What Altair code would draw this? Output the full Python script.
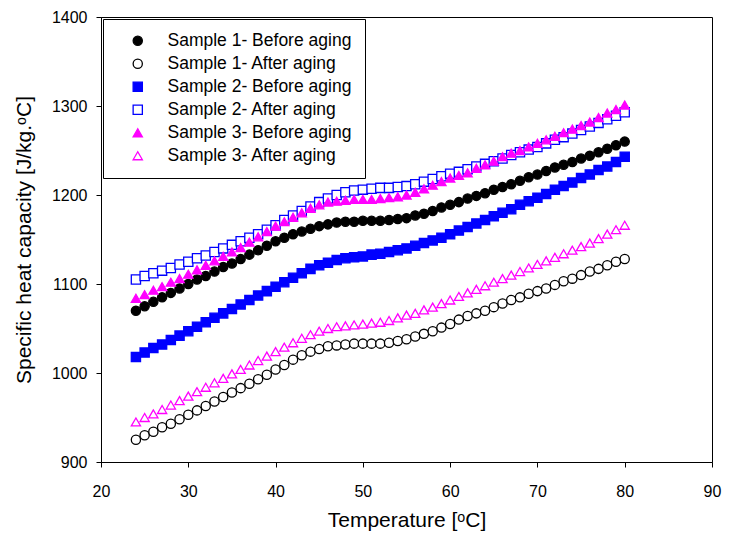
import altair as alt
import pandas as pd

temperature = [24, 25, 26, 27, 28, 29, 30, 31, 32, 33,
               34, 35, 36, 37, 38, 39, 40, 41, 42, 43,
               44, 45, 46, 47, 48, 49, 50, 51, 52, 53,
               54, 55, 56, 57, 58, 59, 60, 61, 62, 63,
               64, 65, 66, 67, 68, 69, 70, 71, 72, 73,
               74, 75, 76, 77, 78, 79, 80]

s1_before = [1070, 1075, 1080, 1085, 1090, 1095, 1100, 1105, 1109, 1114,
             1119, 1123, 1128, 1133, 1138, 1143, 1148, 1152, 1156, 1159,
             1162, 1165, 1167, 1169, 1170, 1170, 1171, 1171, 1171, 1172,
             1173, 1174, 1177, 1179, 1182, 1186, 1189, 1192, 1196, 1199,
             1202, 1206, 1209, 1212, 1216, 1220, 1223, 1227, 1231, 1234,
             1237, 1241, 1244, 1248, 1252, 1256, 1260]

s1_after = [925, 930, 934, 939, 943, 948, 953, 958, 963, 968,
            973, 978, 983, 988, 993, 998, 1004, 1009, 1015, 1020,
            1024, 1027, 1030, 1031, 1032, 1033, 1033, 1033, 1033, 1034,
            1036, 1038, 1041, 1044, 1047, 1051, 1055, 1060, 1064, 1067,
            1070, 1074, 1078, 1082, 1085, 1089, 1092, 1095, 1099, 1103,
            1106, 1110, 1114, 1117, 1121, 1125, 1128]

s2_before = [1018, 1023, 1028, 1032, 1037, 1042, 1047, 1052, 1057, 1062,
             1067, 1072, 1077, 1082, 1087, 1092, 1097, 1102, 1107, 1112,
             1117, 1121, 1124, 1127, 1129, 1130, 1131, 1133, 1134, 1136,
             1138, 1140, 1143, 1146, 1149, 1152, 1156, 1160, 1164, 1168,
             1172, 1176, 1180, 1184, 1189, 1193, 1197, 1201, 1206, 1210,
             1214, 1219, 1223, 1228, 1232, 1237, 1243]

s2_after = [1105, 1109, 1112, 1115, 1118, 1122, 1125, 1129, 1132, 1136,
            1140, 1144, 1148, 1152, 1156, 1161, 1166, 1172, 1177, 1182,
            1187, 1192, 1196, 1200, 1203, 1205, 1206, 1207, 1208, 1208,
            1209, 1210, 1212, 1215, 1218, 1221, 1224, 1226, 1229, 1232,
            1235, 1238, 1241, 1245, 1248, 1251, 1254, 1258, 1262, 1265,
            1269, 1273, 1277, 1281, 1285, 1289, 1293]

s3_before = [1084, 1088, 1093, 1097, 1102, 1106, 1111, 1116, 1121, 1126,
             1131, 1136, 1141, 1147, 1153, 1159, 1165, 1170, 1175, 1180,
             1185, 1189, 1192, 1193, 1194, 1195, 1195, 1195, 1196, 1197,
             1198, 1200, 1203, 1207, 1211, 1215, 1219, 1222, 1225, 1230,
             1234, 1238, 1243, 1247, 1250, 1254, 1258, 1262, 1266, 1270,
             1274, 1278, 1282, 1287, 1292, 1296, 1301]

s3_after = [945, 950, 954, 959, 964, 969, 974, 979, 984, 989,
            994, 999, 1004, 1009, 1014, 1019, 1024, 1029, 1034, 1039,
            1043, 1047, 1050, 1052, 1053, 1054, 1055, 1056, 1057, 1059,
            1062, 1065, 1067, 1071, 1074, 1078, 1082, 1086, 1090, 1094,
            1098, 1102, 1106, 1110, 1114, 1118, 1122, 1126, 1130, 1134,
            1138, 1142, 1146, 1151, 1156, 1161, 1166]

series_names = ["Sample 1- Before aging", "Sample 1- After aging",
                "Sample 2- Before aging", "Sample 2- After aging",
                "Sample 3- Before aging", "Sample 3- After aging"]
series_values = [s1_before, s1_after, s2_before, s2_after, s3_before, s3_after]
stroke_colors = ["#000000", "#000000", "#0000ff", "#0000ff", "#ff00ff", "#ff00ff"]
fill_colors = ["#000000", "#ffffff", "#0000ff", "#ffffff", "#ff00ff", "#ffffff"]
shapes = ["circle", "circle", "square", "square", "triangle-up", "triangle-up"]

x_ticks = [20, 30, 40, 50, 60, 70, 80, 90]
y_ticks = [900, 1000, 1100, 1200, 1300, 1400]

rows = []
for i, (name, vals) in enumerate(zip(series_names, series_values)):
    for t, v in zip(temperature, vals):
        rows.append({"T": t, "Cp": v, "series": name, "order": i})
df = pd.DataFrame(rows)

FONT = "Liberation Sans"

legend = alt.Legend(
    title=None, orient="none", legendX=2, legendY=2,
    padding=13, symbolOffset=13, labelOffset=21, rowPadding=4,
    labelFont=FONT, labelFontSize=17.5, labelColor="black", labelLimit=400,
    symbolSize=85, symbolStrokeWidth=1.3, symbolOpacity=1,
    strokeColor="black", fillColor="white",
)

chart = alt.Chart(df).mark_point(opacity=1, strokeWidth=1.3).encode(
    x=alt.X("T:Q", scale=alt.Scale(domain=[20, 90], nice=False),
            axis=alt.Axis(values=x_ticks, title="Temperature [ᵒC]", format="d",
                          labelFlush=False, labelPadding=16, titlePadding=10)),
    y=alt.Y("Cp:Q", scale=alt.Scale(domain=[900, 1400], nice=False, zero=False),
            axis=alt.Axis(values=y_ticks, title="Specific heat capacity [J/kg.ᵒC]",
                          format="d", labelFlush=False, labelPadding=9, titlePadding=17)),
    stroke=alt.Stroke("series:N", scale=alt.Scale(domain=series_names, range=stroke_colors), legend=legend),
    fill=alt.Fill("series:N", scale=alt.Scale(domain=series_names, range=fill_colors), legend=legend),
    shape=alt.Shape("series:N", scale=alt.Scale(domain=series_names, range=shapes), legend=legend),
    order=alt.Order("order:Q"),
    size=alt.value(85),
).properties(
    width=611, height=445,
    autosize=alt.AutoSizeParams(type="none"),
    padding={"left": 93, "top": 9, "right": 10, "bottom": 70},
).configure_view(
    stroke="black", strokeWidth=1
).configure_axis(
    grid=False, domainColor="black", domainWidth=1, tickColor="black",
    tickSize=5, tickWidth=1, labelFont=FONT, labelFontSize=16, labelColor="black",
    titleFont=FONT, titleFontSize=21, titleFontWeight="normal", titleColor="black",
)

chart.save("out.html", embed_options={"renderer": "svg", "actions": False})
